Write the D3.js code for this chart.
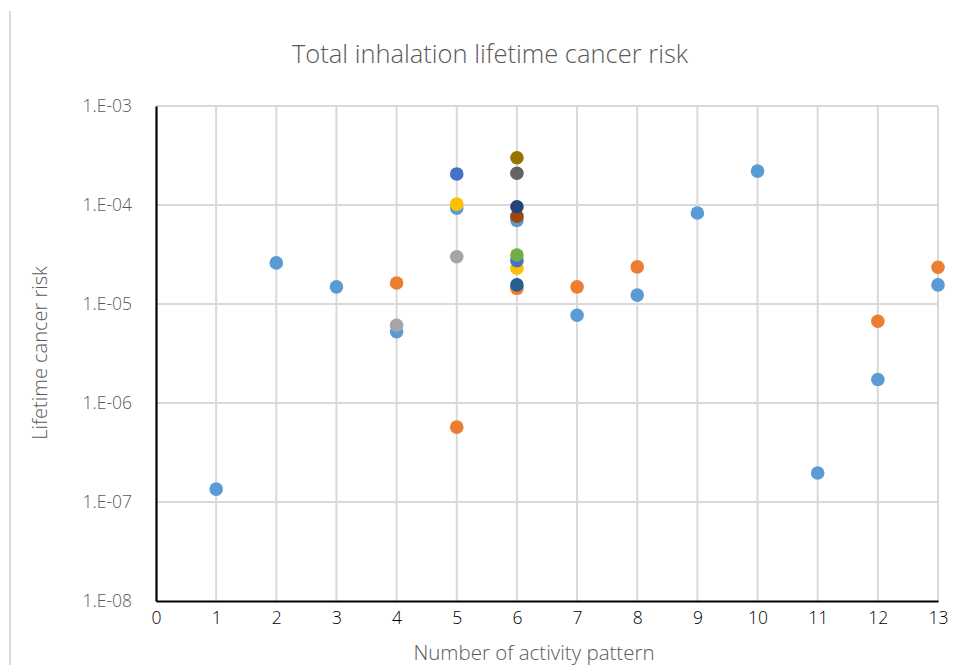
<!DOCTYPE html>
<html>
<head>
<meta charset="utf-8">
<script src="https://cdn.jsdelivr.net/npm/d3@7"></script>
<style>
  html, body { margin: 0; padding: 0; background: #fff; }
  svg { display: block; font-family: "Open Sans", "Noto Sans", sans-serif; }
</style>
</head>
<body>
<svg id="chart" width="957" height="665"></svg>
<script>
// Activity patterns on the x axis
const patterns = [1, 2, 3, 4, 5, 6, 7, 8, 9, 10, 11, 12, 13];
const xTicks = [0, 1, 2, 3, 4, 5, 6, 7, 8, 9, 10, 11, 12, 13];
const yTicks = [1e-3, 1e-4, 1e-5, 1e-6, 1e-7, 1e-8];
const yTickLabels = ["1.E-03", "1.E-04", "1.E-05", "1.E-06", "1.E-07", "1.E-08"];

// Lifetime cancer risk per pattern, one array per series (null = no value)
const series1  = [1.35e-7, 2.6e-5, 1.49e-5, 5.25e-6, 9.3e-5, 7.0e-5, 7.7e-6, 1.23e-5, 8.3e-5, 2.2e-4, 1.96e-7, 1.73e-6, 1.56e-5];
const series2  = [null, null, null, 1.63e-5, 5.7e-7, 1.44e-5, 1.49e-5, 2.37e-5, null, null, null, 6.7e-6, 2.35e-5];
const series3  = [null, null, null, 6.1e-6, 3.0e-5, null, null, null, null, null, null, null, null];
const series4  = [null, null, null, null, 1.02e-4, 2.3e-5, null, null, null, null, null, null, null];
const series5  = [null, null, null, null, 2.06e-4, 2.74e-5, null, null, null, null, null, null, null];
const series6  = [null, null, null, null, null, 3.13e-5, null, null, null, null, null, null, null];
const series7  = [null, null, null, null, null, 1.56e-5, null, null, null, null, null, null, null];
const series8  = [null, null, null, null, null, 7.7e-5, null, null, null, null, null, null, null];
const series9  = [null, null, null, null, null, 2.09e-4, null, null, null, null, null, null, null];
const series10 = [null, null, null, null, null, 3.0e-4, null, null, null, null, null, null, null];
const series11 = [null, null, null, null, null, 9.6e-5, null, null, null, null, null, null, null];

const allSeries = [series1, series2, series3, series4, series5, series6,
                   series7, series8, series9, series10, series11];
const colors = ["#5B9BD5", "#ED7D31", "#A5A5A5", "#FFC000", "#4472C4", "#70AD47",
                "#255E91", "#9E480E", "#636363", "#997300", "#264478"];

const svg = d3.select("#chart");
const plot = { left: 156, right: 938, top: 106, bottom: 601 };

const x = d3.scaleLinear().domain([0, 13]).range([plot.left, plot.right]);
const y = d3.scaleLog().domain([1e-8, 1e-3]).range([plot.bottom, plot.top]);

// Chart-area border on the left edge
svg.append("line")
  .attr("x1", 10).attr("x2", 10).attr("y1", 11).attr("y2", 665)
  .attr("stroke", "#d9d9d9").attr("stroke-width", 2);

// Gridlines
const grid = svg.append("g");
grid.selectAll("line.v").data(xTicks.slice(1)).join("line")
  .attr("class", "v")
  .attr("x1", d => x(d)).attr("x2", d => x(d))
  .attr("y1", plot.top).attr("y2", plot.bottom)
  .attr("stroke", "#d9d9d9").attr("stroke-width", 2);
grid.selectAll("line.h").data(yTicks.slice(0, -1)).join("line")
  .attr("class", "h")
  .attr("x1", plot.left).attr("x2", plot.right)
  .attr("y1", d => y(d)).attr("y2", d => y(d))
  .attr("stroke", "#d9d9d9").attr("stroke-width", 2);

// Axes
const xAxis = svg.append("g")
  .attr("transform", `translate(0,${plot.bottom})`)
  .call(d3.axisBottom(x).tickValues(xTicks).tickSize(0).tickPadding(11).tickFormat(d3.format("d")));
xAxis.select(".domain").attr("stroke", "#000").attr("stroke-width", 2.2);
xAxis.selectAll("text").attr("font-size", 17.5).attr("fill", "#000")
  .attr("font-weight", 300)
  .attr("font-family", "'Open Sans', sans-serif");

const yAxis = svg.append("g")
  .attr("transform", `translate(${plot.left},0)`)
  .call(d3.axisLeft(y).tickValues(yTicks).tickSize(0).tickPadding(24)
    .tickFormat((d, i) => yTickLabels[i]));
yAxis.select(".domain").attr("stroke", "#000").attr("stroke-width", 2.2);
yAxis.selectAll("text").attr("font-size", 17.5).attr("fill", "#595959")
  .attr("font-weight", 300)
  .attr("font-family", "'Open Sans', sans-serif");

// Markers, later series drawn on top
allSeries.forEach((vals, si) => {
  const pts = patterns.map((p, i) => ({ p, v: vals[i] })).filter(d => d.v != null);
  svg.append("g").selectAll("circle").data(pts).join("circle")
    .attr("cx", d => x(d.p))
    .attr("cy", d => y(d.v))
    .attr("r", 6.8)
    .attr("fill", colors[si]);
});

// Titles
svg.append("text")
  .attr("x", 490).attr("y", 63)
  .attr("text-anchor", "middle")
  .attr("font-size", 25.5).attr("font-weight", 300).attr("fill", "#595959")
  .text("Total inhalation lifetime cancer risk");

svg.append("text")
  .attr("x", 534).attr("y", 660)
  .attr("text-anchor", "middle")
  .attr("font-size", 20.5).attr("font-weight", 300).attr("fill", "#595959")
  .text("Number of activity pattern");

svg.append("text")
  .attr("transform", "translate(47,353) rotate(-90)")
  .attr("text-anchor", "middle")
  .attr("font-size", 20).attr("font-weight", 300).attr("fill", "#595959")
  .text("Lifetime cancer risk");
</script>
</body>
</html>
